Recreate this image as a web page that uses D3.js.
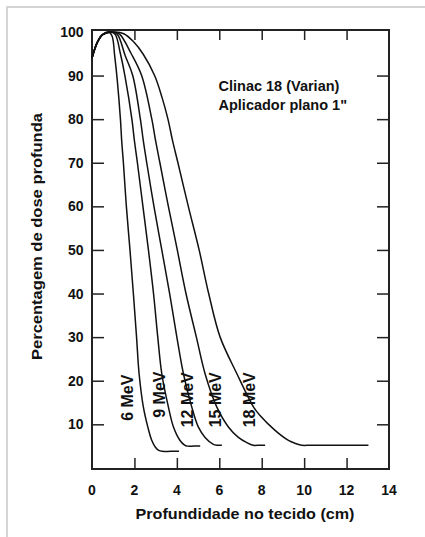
<!DOCTYPE html>
<html>
<head>
<meta charset="utf-8">
<script src="https://cdn.jsdelivr.net/npm/d3@7"></script>
<style>
  html, body { margin: 0; padding: 0; background: #fff; }
  svg { display: block; }
  text { font-family: "Liberation Sans", Arial, sans-serif; font-weight: bold; fill: #111; }
</style>
</head>
<body>
<script>
// ---- data ----
const energies = ["6 MeV", "9 MeV", "12 MeV", "15 MeV", "18 MeV"];
const xTicks = [0, 2, 4, 6, 8, 10, 12, 14];
const yTicks = [10, 20, 30, 40, 50, 60, 70, 80, 90, 100];
const xTitle = "Profundidade no tecido (cm)";
const yTitle = "Percentagem de dose profunda";
const note = ["Clinac 18 (Varian)", "Aplicador plano 1\""];

// [depth (cm), dose (%)]
const mev6 = [[0,94],[0.25,97.6],[0.5,99.4],[0.8,100],[0.95,99.0],[1.07,94.5],[1.19,89],[1.34,80],[1.40,75],[1.48,70],[1.62,60],[1.79,50],[1.95,40],[2.10,30],[2.22,21.6],[2.42,14],[2.63,9.4],[2.81,6.4],[2.98,4.8],[3.15,4.0],[3.3,3.8],[3.7,3.8],[4.1,3.8]];
const mev9 = [[0,94],[0.25,97.6],[0.5,99.4],[0.9,100],[1.1,99.4],[1.34,95],[1.55,90],[1.88,80],[2.0,75],[2.14,70],[2.40,60],[2.66,50],[2.90,40],[3.10,30],[3.29,21.6],[3.60,14],[3.84,9.4],[4.15,6.3],[4.35,5.3],[4.5,5.0],[4.8,5.0],[5.1,5.0]];
const mev12 = [[0,94],[0.25,97.6],[0.5,99.4],[0.95,100],[1.2,99.4],[1.57,94.5],[1.92,90],[2.28,80],[2.42,75],[2.58,70],[2.92,60],[3.29,50],[3.66,40],[4.0,30],[4.31,21.6],[4.70,14],[5.01,9.4],[5.33,7.0],[5.72,5.4],[5.9,5.2],[6.0,5.2],[6.12,5.2]];
const mev15 = [[0,94],[0.25,97.6],[0.5,99.4],[1.0,100],[1.3,99.5],[1.85,95],[2.34,90],[2.82,80],[3.0,75],[3.2,70],[3.60,60],[4.02,50],[4.43,40],[4.92,30],[5.33,21.6],[5.88,14],[6.43,9.4],[6.9,7.0],[7.3,5.8],[7.6,5.2],[7.9,5.2],[8.16,5.2]];
const mev18 = [[0,94],[0.25,97.6],[0.5,99.4],[1.1,100],[1.5,99.6],[1.95,97.8],[2.4,95],[2.95,90],[3.3,85],[3.58,80],[3.8,75],[4.05,70],[4.54,60],[5.05,50],[5.5,40],[6.04,30],[6.83,21.6],[7.61,14],[7.92,12],[8.63,8.6],[9.26,6.3],[9.6,5.6],[9.89,5.2],[10.3,5.2],[11.5,5.2],[13.03,5.2]];
const series = [mev6, mev9, mev12, mev15, mev18];

// ---- layout ----
const W = 425, H = 537;
const mLeft = 92, mRight = 389, mTop = 30, mBottom = 469;

const svg = d3.select("body").append("svg").attr("width", W).attr("height", H);
svg.append("rect").attr("width", W).attr("height", H).attr("fill", "#fff");

// light outer frame (top + left)
svg.append("path").attr("d", `M7,${H} L7,7 L${W},7`).attr("fill", "none")
  .attr("stroke", "#c8c8c8").attr("stroke-width", 1.5);

const x = d3.scaleLinear().domain([0, 14]).range([mLeft, mRight]);
const y = d3.scaleLinear().domain([-0.25, 100.45]).range([mBottom, mTop]);

// inner ticks
const tickColor = "#222";
const innerX = xTicks.filter(d => d > 0 && d < 14);
const innerY = yTicks.filter(d => d < 100);

svg.append("g").attr("transform", `translate(0,${mBottom})`)
  .call(d3.axisBottom(x).tickValues(innerX).tickSize(-11).tickFormat(""))
  .call(g => g.select(".domain").remove())
  .call(g => g.selectAll("line").attr("stroke", tickColor).attr("stroke-width", 1.5));
svg.append("g").attr("transform", `translate(0,${mTop})`)
  .call(d3.axisTop(x).tickValues(innerX).tickSize(-10).tickFormat(""))
  .call(g => g.select(".domain").remove())
  .call(g => g.selectAll("line").attr("stroke", tickColor).attr("stroke-width", 1.5));
svg.append("g").attr("transform", `translate(${mLeft},0)`)
  .call(d3.axisLeft(y).tickValues(innerY).tickSize(-12).tickFormat(""))
  .call(g => g.select(".domain").remove())
  .call(g => g.selectAll("line").attr("stroke", tickColor).attr("stroke-width", 1.5));
svg.append("g").attr("transform", `translate(${mRight},0)`)
  .call(d3.axisRight(y).tickValues(innerY).tickSize(-12).tickFormat(""))
  .call(g => g.select(".domain").remove())
  .call(g => g.selectAll("line").attr("stroke", tickColor).attr("stroke-width", 1.5));

// frame
svg.append("rect").attr("x", mLeft).attr("y", mTop)
  .attr("width", mRight - mLeft).attr("height", mBottom - mTop)
  .attr("fill", "none").attr("stroke", tickColor).attr("stroke-width", 2);

// tick labels
svg.append("g").selectAll("text").data(xTicks).join("text")
  .attr("x", d => x(d)).attr("y", 494.5)
  .attr("text-anchor", "middle").attr("font-size", 14).text(d => d);
svg.append("g").selectAll("text").data(yTicks).join("text")
  .attr("x", 83.5).attr("y", d => y(d)).attr("dy", "0.36em")
  .attr("text-anchor", "end").attr("font-size", 14).text(d => d);

// axis titles
svg.append("text").attr("x", 245).attr("y", 518.5)
  .attr("text-anchor", "middle").attr("font-size", 15.5)
  .attr("textLength", 219).attr("lengthAdjust", "spacingAndGlyphs").text(xTitle);
svg.append("text").attr("transform", "translate(41.5,236.5) rotate(-90)")
  .attr("text-anchor", "middle").attr("font-size", 15.5)
  .attr("textLength", 247).attr("lengthAdjust", "spacingAndGlyphs").text(yTitle);

// note
svg.append("g").selectAll("text").data(note).join("text")
  .attr("x", 218.5).attr("y", (d, i) => 91 + i * 19)
  .attr("font-size", 14.5).text(d => d);

// curves
const line = d3.line().x(d => x(d[0])).y(d => y(d[1])).curve(d3.curveCatmullRom.alpha(0.5));
svg.append("g").selectAll("path").data(series).join("path")
  .attr("d", line).attr("fill", "none").attr("stroke", "#111")
  .attr("stroke-width", 1.5).attr("stroke-linejoin", "round");

// energy labels (rotated)
const labelBase = [1.94, 3.44, 4.77, 6.06, 7.69]; // baseline x (cm)
const labelBottom = [10.8, 11.5, 9.3, 9.3, 9.3];   // text start (dose %)
svg.append("g").selectAll("text").data(energies).join("text")
  .attr("transform", (d, i) => `translate(${x(labelBase[i])},${y(labelBottom[i])}) rotate(-90)`)
  .attr("font-size", 16).text(d => d);
</script>
</body>
</html>
